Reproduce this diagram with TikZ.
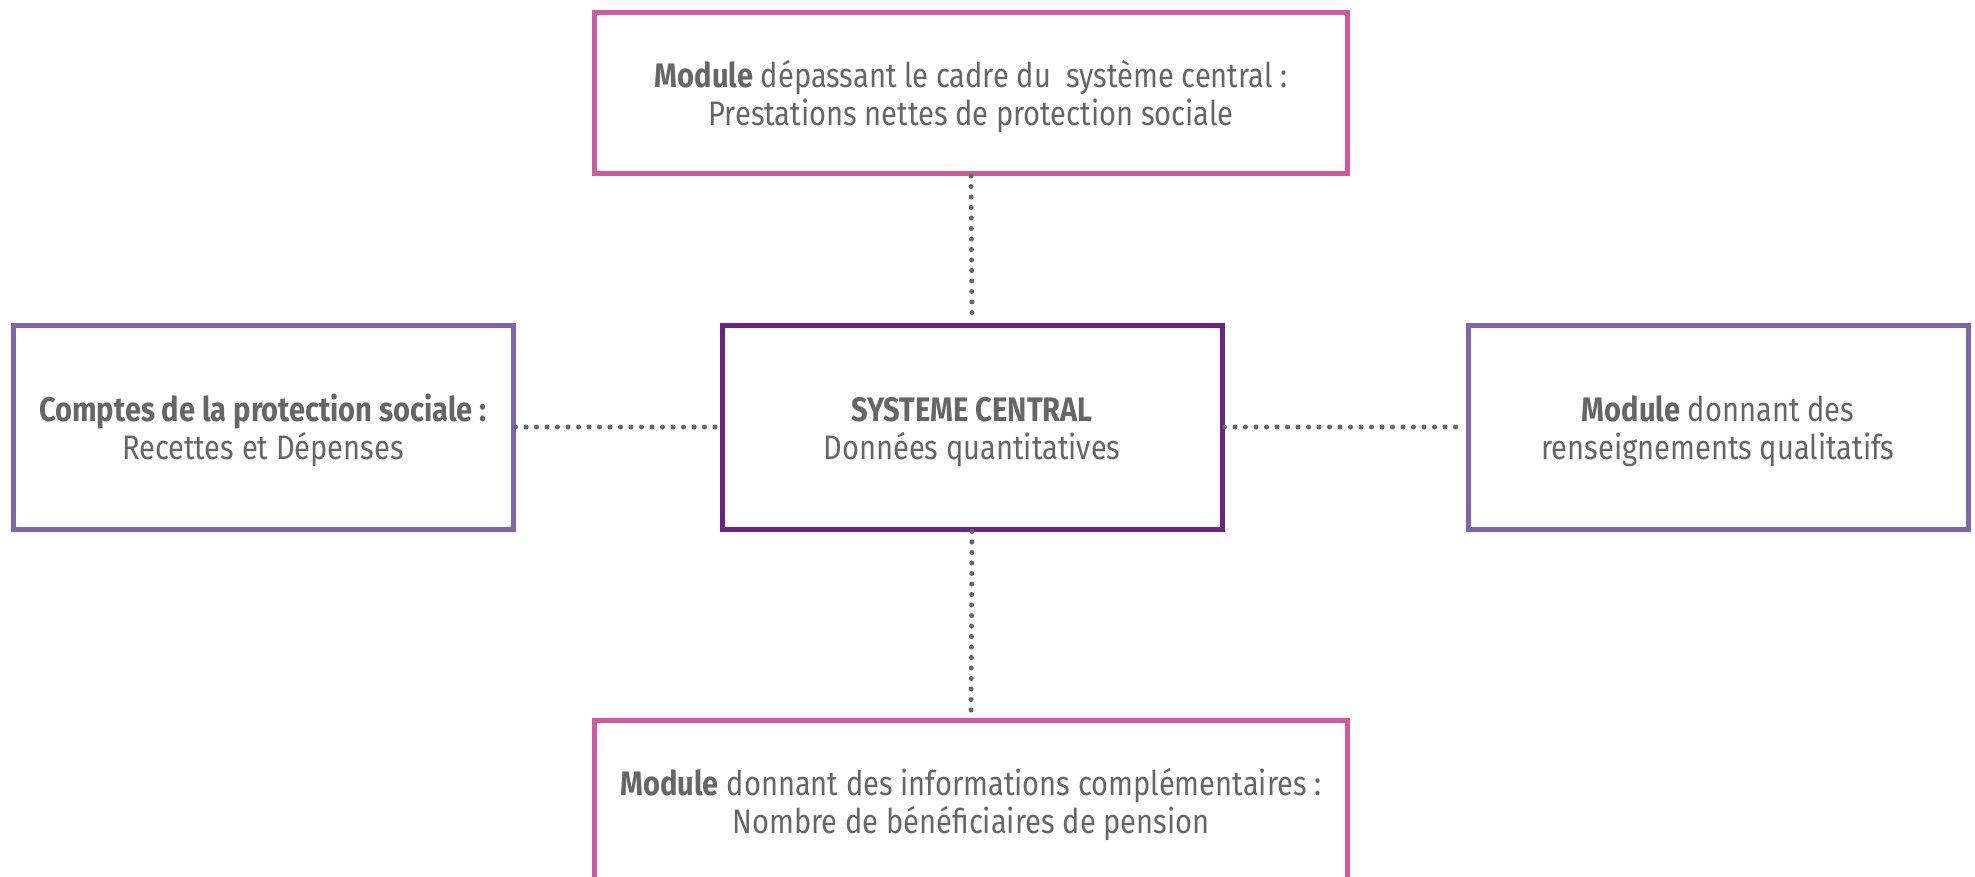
\documentclass[tikz,border=0pt]{standalone}
\usepackage{fontspec}
\setmainfont{Fira Sans}[FakeStretch=0.855]
\definecolor{pinkc}{HTML}{D05AA0}
\definecolor{lavc}{HTML}{7F65AE}
\definecolor{darkc}{HTML}{6A2382}
\definecolor{txtc}{HTML}{666666}
\newcommand{\lift}{\rule{0pt}{34pt}}
\tikzset{
  box/.style={draw, line width=5pt, align=center, text=txtc, inner sep=0pt,
    font=\fontsize{34}{38}\selectfont},
  wide/.style={box, draw=pinkc, minimum width=753pt, minimum height=161pt},
  side/.style={box, draw=lavc, minimum width=500pt, minimum height=204pt},
  core/.style={box, draw=darkc, minimum width=500pt, minimum height=204pt},
  dots/.style={draw=txtc, line width=5pt, line cap=round, dash pattern=on 0pt off 10.5pt}
}
\begin{document}
\begin{tikzpicture}[x=1pt,y=-1pt]
\useasboundingbox[fill=white] (0,0) rectangle (1975,877);
\node[wide] (top) at (971,93) {\lift\textbf{Module} dépassant le cadre du \ système central :\\Prestations nettes de protection sociale};
\node[core] (mid) at (972,427) {\lift\textbf{SYSTEME CENTRAL}\\Données quantitatives};
\node[side] (left) at (263,427) {\lift\textbf{Comptes de la protection sociale :}\\Recettes et Dépenses};
\node[side] (right) at (1718,427) {\lift\textbf{Module} donnant des\\renseignements qualitatifs};
\node[wide] (bot) at (971,801) {\lift\textbf{Module} donnant des informations complémentaires :\\Nombre de bénéficiaires de pension};
\draw[dots] (top.south) -- (mid.north);
\draw[dots] (mid.south) -- (bot.north);
\draw[dots] (left.east) -- (mid.west);
\draw[dots] (mid.east) -- (right.west);
\end{tikzpicture}
\end{document}
